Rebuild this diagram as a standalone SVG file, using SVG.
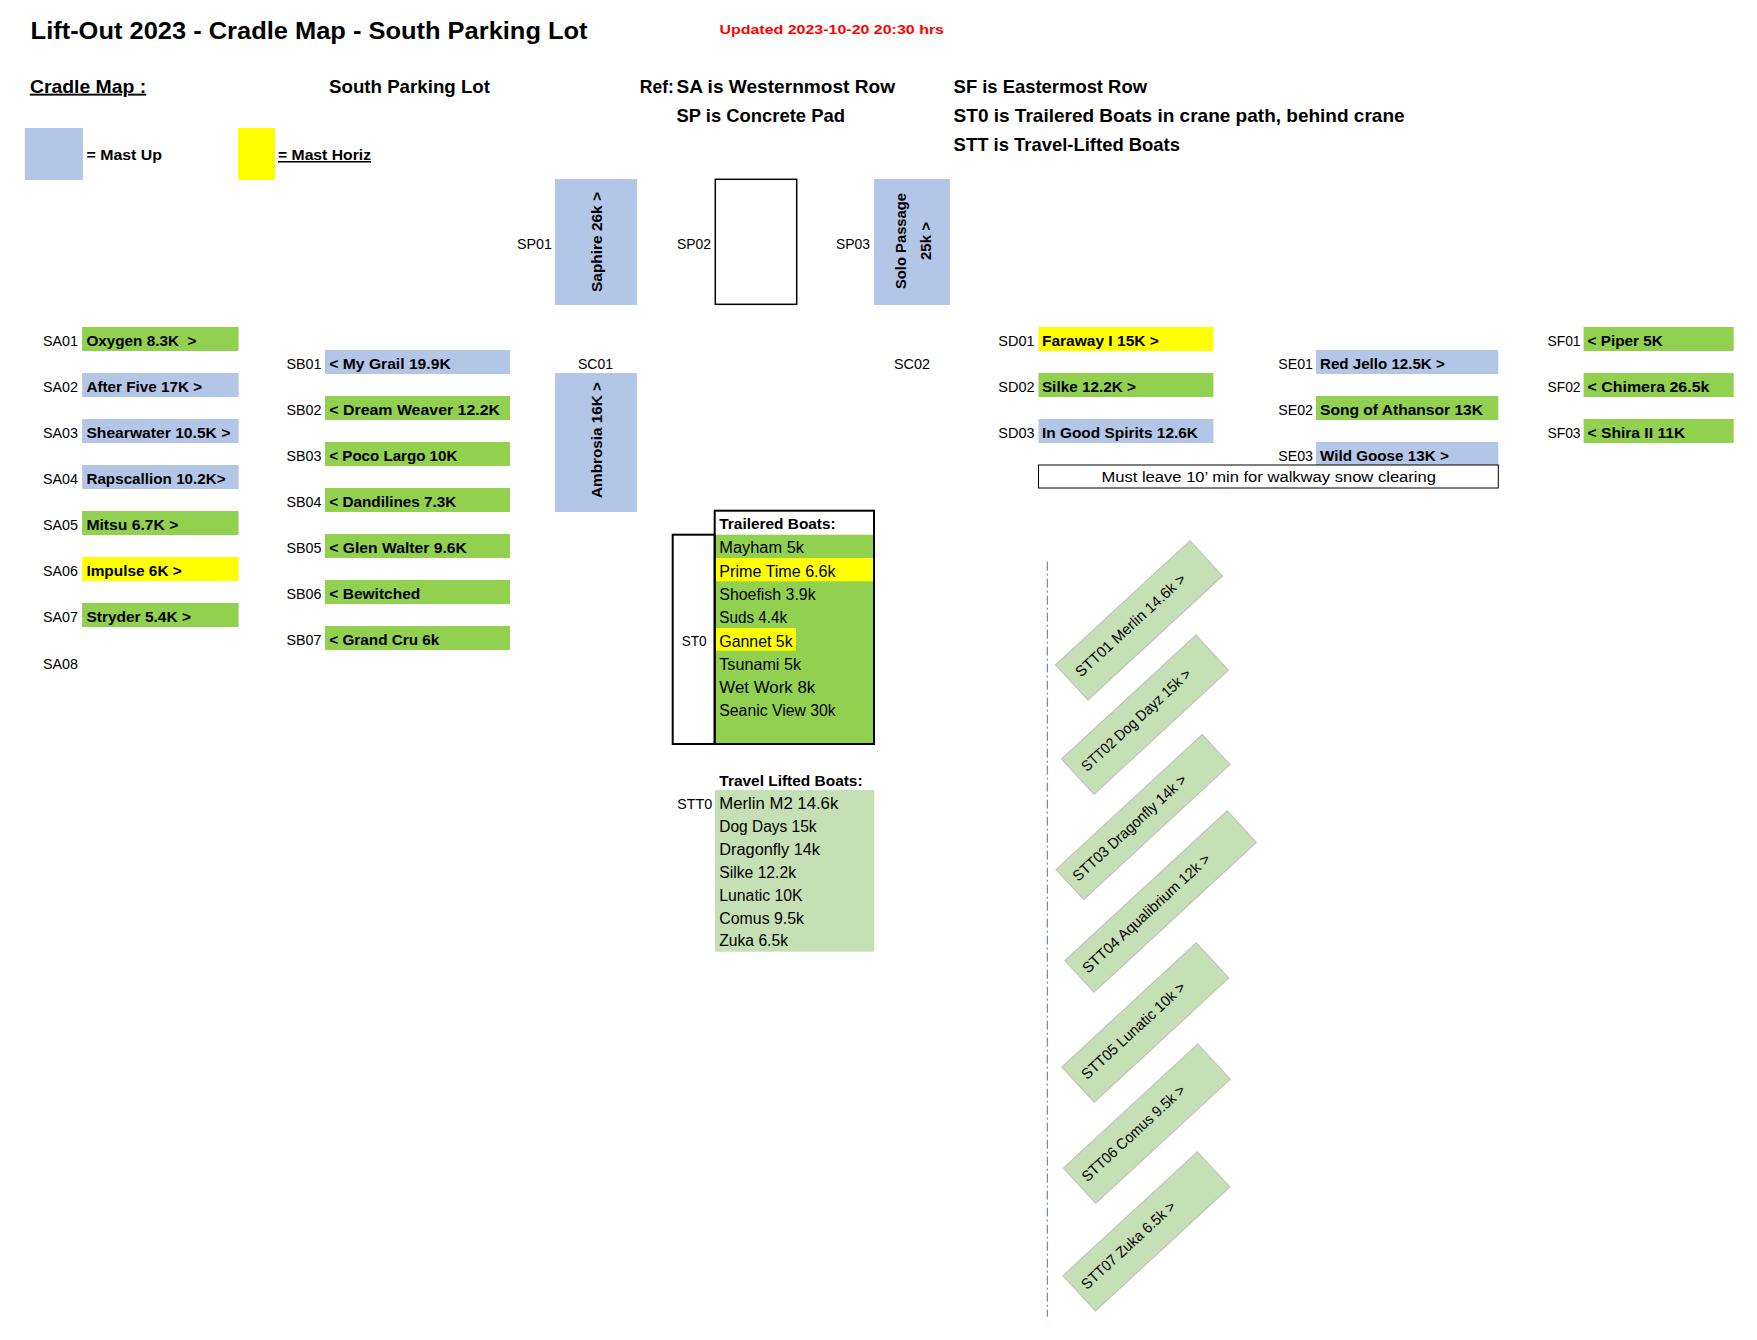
<svg xmlns="http://www.w3.org/2000/svg" width="1757" height="1340" viewBox="0 0 1757 1340">
<style>
text{font-family:"Liberation Sans",Arial,sans-serif;fill:#000}
.b{font-weight:bold}
.h{font-size:19px;font-weight:bold}
.lbl{font-size:15.5px}
.bx{font-size:15.3px;font-weight:bold}
.row{font-size:16px}
.tt{font-size:15px}
.blue{fill:#B4C6E7}
.green{fill:#92D050}
.yellow{fill:#FFFF00}
.lg{fill:#C5E0B4}
.ttbox{fill:#C5E0B4;stroke:#BFBFBF;stroke-width:1}
.u{text-decoration:underline}
</style>
<rect width="1757" height="1340" fill="#FFFFFF"/>

<g id="header">
<text x="30.6" y="39.3" font-size="23" class="b" textLength="557" lengthAdjust="spacingAndGlyphs">Lift-Out 2023 - Cradle Map - South Parking Lot</text>
<text x="719.4" y="34.3" font-size="13.5" class="b" style="fill:#FF0000" textLength="224.6" lengthAdjust="spacingAndGlyphs">Updated 2023-10-20 20:30 hrs</text>
<text x="29.9" y="92.7" class="h u" textLength="116.3" lengthAdjust="spacingAndGlyphs">Cradle Map :</text>
<text x="329" y="92.7" class="h" textLength="161" lengthAdjust="spacingAndGlyphs">South Parking Lot</text>
<text x="639.8" y="92.7" class="h" textLength="34" lengthAdjust="spacingAndGlyphs">Ref:</text>
<text x="676.5" y="92.7" class="h" textLength="218.5" lengthAdjust="spacingAndGlyphs">SA is Westernmost Row</text>
<text x="676.5" y="121.7" class="h" textLength="168.5" lengthAdjust="spacingAndGlyphs">SP is Concrete Pad</text>
<text x="953.6" y="92.7" class="h" textLength="193.4" lengthAdjust="spacingAndGlyphs">SF is Eastermost Row</text>
<text x="953.6" y="121.7" class="h" textLength="451" lengthAdjust="spacingAndGlyphs">ST0 is Trailered Boats in crane path, behind crane</text>
<text x="953.6" y="150.7" class="h" textLength="226.4" lengthAdjust="spacingAndGlyphs">STT is Travel-Lifted Boats</text>
</g>

<g id="legend">
<rect x="24.9" y="128" width="58" height="52" class="blue"/>
<text x="86.5" y="160" class="bx" textLength="75.5" lengthAdjust="spacingAndGlyphs">= Mast Up</text>
<rect x="238" y="128" width="37" height="52" class="yellow"/>
<text x="278" y="160" class="bx u" textLength="93" lengthAdjust="spacingAndGlyphs">= Mast Horiz</text>
</g>

<g id="row-SA">
<g id="SA01"><text x="42.9" y="346" class="lbl" textLength="35" lengthAdjust="spacingAndGlyphs">SA01</text><rect x="82.1" y="327" width="156.5" height="24" class="green"/><text x="86.4" y="346" class="bx" xml:space="preserve" textLength="110" lengthAdjust="spacingAndGlyphs">Oxygen 8.3K  &gt;</text></g>
<g id="SA02"><text x="42.9" y="392" class="lbl" textLength="35" lengthAdjust="spacingAndGlyphs">SA02</text><rect x="82.1" y="373" width="156.5" height="24" class="blue"/><text x="86.4" y="392" class="bx" textLength="115.7" lengthAdjust="spacingAndGlyphs">After Five 17K &gt;</text></g>
<g id="SA03"><text x="42.9" y="438" class="lbl" textLength="35" lengthAdjust="spacingAndGlyphs">SA03</text><rect x="82.1" y="419" width="156.5" height="24" class="blue"/><text x="86.4" y="438" class="bx" textLength="144" lengthAdjust="spacingAndGlyphs">Shearwater 10.5K &gt;</text></g>
<g id="SA04"><text x="42.9" y="484" class="lbl" textLength="35" lengthAdjust="spacingAndGlyphs">SA04</text><rect x="82.1" y="465" width="156.5" height="24" class="blue"/><text x="86.4" y="484" class="bx" textLength="139.3" lengthAdjust="spacingAndGlyphs">Rapscallion 10.2K&gt;</text></g>
<g id="SA05"><text x="42.9" y="530" class="lbl" textLength="35" lengthAdjust="spacingAndGlyphs">SA05</text><rect x="82.1" y="511" width="156.5" height="24" class="green"/><text x="86.4" y="530" class="bx" textLength="92" lengthAdjust="spacingAndGlyphs">Mitsu 6.7K &gt;</text></g>
<g id="SA06"><text x="42.9" y="576" class="lbl" textLength="35" lengthAdjust="spacingAndGlyphs">SA06</text><rect x="82.1" y="557" width="156.5" height="24" class="yellow"/><text x="86.4" y="576" class="bx" textLength="95.4" lengthAdjust="spacingAndGlyphs">Impulse 6K &gt;</text></g>
<g id="SA07"><text x="42.9" y="622" class="lbl" textLength="35" lengthAdjust="spacingAndGlyphs">SA07</text><rect x="82.1" y="603" width="156.5" height="24" class="green"/><text x="86.4" y="622" class="bx" textLength="104.6" lengthAdjust="spacingAndGlyphs">Stryder 5.4K &gt;</text></g>
<g id="SA08"><text x="42.9" y="669" class="lbl" textLength="35" lengthAdjust="spacingAndGlyphs">SA08</text></g>
</g>

<g id="row-SB">
<g id="SB01"><text x="286.4" y="369" class="lbl" textLength="35" lengthAdjust="spacingAndGlyphs">SB01</text><rect x="325" y="350" width="185" height="24" class="blue"/><text x="329.3" y="369" class="bx" textLength="121.4" lengthAdjust="spacingAndGlyphs">&lt; My Grail 19.9K</text></g>
<g id="SB02"><text x="286.4" y="415" class="lbl" textLength="35" lengthAdjust="spacingAndGlyphs">SB02</text><rect x="325" y="396" width="185" height="24" class="green"/><text x="329.3" y="415" class="bx" textLength="170.7" lengthAdjust="spacingAndGlyphs">&lt; Dream Weaver 12.2K</text></g>
<g id="SB03"><text x="286.4" y="461" class="lbl" textLength="35" lengthAdjust="spacingAndGlyphs">SB03</text><rect x="325" y="442" width="185" height="24" class="green"/><text x="329.3" y="461" class="bx" textLength="128" lengthAdjust="spacingAndGlyphs">&lt; Poco Largo 10K</text></g>
<g id="SB04"><text x="286.4" y="507" class="lbl" textLength="35" lengthAdjust="spacingAndGlyphs">SB04</text><rect x="325" y="488" width="185" height="24" class="green"/><text x="329.3" y="507" class="bx" textLength="127" lengthAdjust="spacingAndGlyphs">&lt; Dandilines 7.3K</text></g>
<g id="SB05"><text x="286.4" y="553" class="lbl" textLength="35" lengthAdjust="spacingAndGlyphs">SB05</text><rect x="325" y="534" width="185" height="24" class="green"/><text x="329.3" y="553" class="bx" textLength="137.5" lengthAdjust="spacingAndGlyphs">&lt; Glen Walter 9.6K</text></g>
<g id="SB06"><text x="286.4" y="599" class="lbl" textLength="35" lengthAdjust="spacingAndGlyphs">SB06</text><rect x="325" y="580" width="185" height="24" class="green"/><text x="329.3" y="599" class="bx" textLength="91" lengthAdjust="spacingAndGlyphs">&lt; Bewitched</text></g>
<g id="SB07"><text x="286.4" y="645" class="lbl" textLength="35" lengthAdjust="spacingAndGlyphs">SB07</text><rect x="325" y="626" width="185" height="24" class="green"/><text x="329.3" y="645" class="bx" textLength="110" lengthAdjust="spacingAndGlyphs">&lt; Grand Cru 6k</text></g>
</g>

<g id="row-SP">
<g id="SP01"><text x="517" y="249" class="lbl" textLength="35" lengthAdjust="spacingAndGlyphs">SP01</text><rect x="555" y="179" width="82" height="126" class="blue"/><text transform="translate(602,242) rotate(-90)" text-anchor="middle" class="bx" textLength="100" lengthAdjust="spacingAndGlyphs">Saphire 26k &gt;</text></g>
<g id="SP02"><text x="677" y="249" class="lbl" textLength="34" lengthAdjust="spacingAndGlyphs">SP02</text><rect x="715.3" y="179.3" width="81.4" height="125" fill="none" stroke="#000" stroke-width="1.5"/></g>
<g id="SP03"><text x="836" y="249" class="lbl" textLength="34" lengthAdjust="spacingAndGlyphs">SP03</text><rect x="874" y="179" width="76" height="126" class="blue"/><text transform="translate(906,241) rotate(-90)" text-anchor="middle" class="bx" textLength="96" lengthAdjust="spacingAndGlyphs">Solo Passage</text><text transform="translate(930.5,241) rotate(-90)" text-anchor="middle" class="bx" textLength="38" lengthAdjust="spacingAndGlyphs">25k &gt;</text></g>
</g>

<g id="row-SC">
<g id="SC01"><text x="578" y="369" class="lbl" textLength="35" lengthAdjust="spacingAndGlyphs">SC01</text><rect x="555" y="373" width="82" height="139" class="blue"/><text transform="translate(602,440) rotate(-90)" text-anchor="middle" class="bx" textLength="116" lengthAdjust="spacingAndGlyphs">Ambrosia 16K &gt;</text></g>
<g id="SC02"><text x="894" y="369" class="lbl" textLength="36" lengthAdjust="spacingAndGlyphs">SC02</text></g>
</g>

<g id="row-SD">
<g id="SD01"><text x="998.3" y="346" class="lbl" textLength="36.2" lengthAdjust="spacingAndGlyphs">SD01</text><rect x="1038.5" y="327" width="174.9" height="24" class="yellow"/><text x="1041.9" y="346" class="bx" textLength="117" lengthAdjust="spacingAndGlyphs">Faraway I 15K &gt;</text></g>
<g id="SD02"><text x="998.3" y="392" class="lbl" textLength="36.2" lengthAdjust="spacingAndGlyphs">SD02</text><rect x="1038.5" y="373" width="174.9" height="24" class="green"/><text x="1041.9" y="392" class="bx" textLength="94.2" lengthAdjust="spacingAndGlyphs">Silke 12.2K &gt;</text></g>
<g id="SD03"><text x="998.3" y="438" class="lbl" textLength="36.2" lengthAdjust="spacingAndGlyphs">SD03</text><rect x="1038.5" y="419" width="174.9" height="24" class="blue"/><text x="1041.9" y="438" class="bx" textLength="156.1" lengthAdjust="spacingAndGlyphs">In Good Spirits 12.6K</text></g>
</g>

<g id="row-SE">
<g id="SE01"><text x="1278.3" y="369" class="lbl" textLength="34.7" lengthAdjust="spacingAndGlyphs">SE01</text><rect x="1316" y="350" width="182.3" height="24" class="blue"/><text x="1320" y="369" class="bx" textLength="124.8" lengthAdjust="spacingAndGlyphs">Red Jello 12.5K &gt;</text></g>
<g id="SE02"><text x="1278.3" y="415" class="lbl" textLength="34.7" lengthAdjust="spacingAndGlyphs">SE02</text><rect x="1316" y="396" width="182.3" height="24" class="green"/><text x="1320" y="415" class="bx" textLength="163" lengthAdjust="spacingAndGlyphs">Song of Athansor 13K</text></g>
<g id="SE03"><text x="1278.3" y="461" class="lbl" textLength="34.7" lengthAdjust="spacingAndGlyphs">SE03</text><rect x="1316" y="442" width="182.3" height="23" class="blue"/><text x="1320" y="461" class="bx" textLength="128.8" lengthAdjust="spacingAndGlyphs">Wild Goose 13K &gt;</text></g>
</g>

<g id="snow-note">
<rect x="1038.5" y="465" width="459.8" height="23" fill="#FFFFFF" stroke="#000" stroke-width="1"/>
<text x="1268.7" y="482" text-anchor="middle" class="lbl" textLength="334.5" lengthAdjust="spacingAndGlyphs">Must leave 10’ min for walkway snow clearing</text>
</g>

<g id="row-SF">
<g id="SF01"><text x="1547.4" y="346" class="lbl" textLength="33.2" lengthAdjust="spacingAndGlyphs">SF01</text><rect x="1583.6" y="327" width="150.1" height="24" class="green"/><text x="1587.5" y="346" class="bx" textLength="75.4" lengthAdjust="spacingAndGlyphs">&lt; Piper 5K</text></g>
<g id="SF02"><text x="1547.4" y="392" class="lbl" textLength="33.2" lengthAdjust="spacingAndGlyphs">SF02</text><rect x="1583.6" y="373" width="150.1" height="24" class="green"/><text x="1587.5" y="392" class="bx" textLength="121.9" lengthAdjust="spacingAndGlyphs">&lt; Chimera 26.5k</text></g>
<g id="SF03"><text x="1547.4" y="438" class="lbl" textLength="33.2" lengthAdjust="spacingAndGlyphs">SF03</text><rect x="1583.6" y="419" width="150.1" height="24" class="green"/><text x="1587.5" y="438" class="bx" textLength="97.7" lengthAdjust="spacingAndGlyphs">&lt; Shira II 11K</text></g>
</g>

<g id="ST0-trailered">
<rect x="714.7" y="510.7" width="159.3" height="233.3" fill="#FFFFFF"/>
<rect x="715.7" y="534.7" width="157.3" height="208.3" class="green"/>
<rect x="715.7" y="558" width="157.3" height="23.3" class="yellow"/>
<rect x="715.7" y="628" width="80.3" height="22.7" class="yellow"/>
<rect x="714.7" y="510.7" width="159.3" height="233.3" fill="none" stroke="#000" stroke-width="2"/>
<rect x="672.7" y="534.7" width="42" height="209.3" fill="none" stroke="#000" stroke-width="2"/>
<text x="681.7" y="646" class="lbl" textLength="25" lengthAdjust="spacingAndGlyphs">ST0</text>
<text x="719.3" y="529.3" class="bx" textLength="116.4" lengthAdjust="spacingAndGlyphs">Trailered Boats:</text>
<text x="719.3" y="553.3" class="row" textLength="84.7" lengthAdjust="spacingAndGlyphs">Mayham 5k</text>
<text x="719.3" y="576.6" class="row" textLength="116.3" lengthAdjust="spacingAndGlyphs">Prime Time 6.6k</text>
<text x="719.3" y="599.9" class="row" textLength="96.3" lengthAdjust="spacingAndGlyphs">Shoefish 3.9k</text>
<text x="719.3" y="623.2" class="row" textLength="67.7" lengthAdjust="spacingAndGlyphs">Suds 4.4k</text>
<text x="719.3" y="646.5" class="row" textLength="73.3" lengthAdjust="spacingAndGlyphs">Gannet 5k</text>
<text x="719.3" y="669.8" class="row" textLength="81.7" lengthAdjust="spacingAndGlyphs">Tsunami 5k</text>
<text x="719.3" y="693.1" class="row" textLength="96" lengthAdjust="spacingAndGlyphs">Wet Work 8k</text>
<text x="719.3" y="716.4" class="row" textLength="116.4" lengthAdjust="spacingAndGlyphs">Seanic View 30k</text>
</g>

<g id="STT0-travel-lifted">
<text x="719.3" y="786" class="bx" textLength="143.3" lengthAdjust="spacingAndGlyphs">Travel Lifted Boats:</text>
<rect x="715" y="790" width="159.3" height="161.7" class="lg"/>
<text x="677.3" y="809" class="lbl" textLength="35" lengthAdjust="spacingAndGlyphs">STT0</text>
<text x="719.3" y="809" class="row" textLength="119" lengthAdjust="spacingAndGlyphs">Merlin M2 14.6k</text>
<text x="719.3" y="831.9" class="row" textLength="97.3" lengthAdjust="spacingAndGlyphs">Dog Days 15k</text>
<text x="719.3" y="854.8" class="row" textLength="100.7" lengthAdjust="spacingAndGlyphs">Dragonfly 14k</text>
<text x="719.3" y="877.7" class="row" textLength="76.7" lengthAdjust="spacingAndGlyphs">Silke 12.2k</text>
<text x="719.3" y="900.6" class="row" textLength="83.3" lengthAdjust="spacingAndGlyphs">Lunatic 10K</text>
<text x="719.3" y="923.5" class="row" textLength="84.7" lengthAdjust="spacingAndGlyphs">Comus 9.5k</text>
<text x="719.3" y="946.4" class="row" textLength="68.7" lengthAdjust="spacingAndGlyphs">Zuka 6.5k</text>
</g>

<g id="guide-line">
<line x1="1047.3" y1="561.7" x2="1047.3" y2="1316.7" stroke="#4472C4" stroke-width="1" stroke-dasharray="9 3 2 3"/>
</g>

<g id="STT01" transform="translate(1139,620.3) rotate(-42.7)"><rect x="-91.5" y="-24" width="183" height="48" class="ttbox"/><text x="-81.6" y="3" class="tt" textLength="144" lengthAdjust="spacingAndGlyphs">STT01 Merlin 14.6k &gt;</text></g>
<g id="STT02" transform="translate(1145,714.7) rotate(-42.7)"><rect x="-91.5" y="-24" width="183" height="48" class="ttbox"/><text x="-81.7" y="3" class="tt" textLength="143" lengthAdjust="spacingAndGlyphs">STT02 Dog Dayz 15k &gt;</text></g>
<g id="STT03" transform="translate(1143,817) rotate(-42.7)"><rect x="-99.5" y="-20.5" width="199" height="41" class="ttbox"/><text x="-91.7" y="4" class="tt" textLength="149" lengthAdjust="spacingAndGlyphs">STT03 Dragonfly 14k &gt;</text></g>
<g id="STT04" transform="translate(1160.6,901.5) rotate(-42.7)"><rect x="-110.5" y="-21.5" width="221" height="43" class="ttbox"/><text x="-102.5" y="4" class="tt" textLength="168" lengthAdjust="spacingAndGlyphs">STT04 Aqualibrium 12k &gt;</text></g>
<g id="STT05" transform="translate(1145.3,1022.5) rotate(-42.7)"><rect x="-91.5" y="-24" width="183" height="48" class="ttbox"/><text x="-82" y="3" class="tt" textLength="135.5" lengthAdjust="spacingAndGlyphs">STT05 Lunatic 10k &gt;</text></g>
<g id="STT06" transform="translate(1146.8,1123.6) rotate(-42.7)"><rect x="-91.5" y="-24" width="183" height="48" class="ttbox"/><text x="-83.6" y="3" class="tt" textLength="134.5" lengthAdjust="spacingAndGlyphs">STT06 Comus 9.5k &gt;</text></g>
<g id="STT07" transform="translate(1146.4,1231.3) rotate(-42.7)"><rect x="-91.5" y="-24" width="183" height="48" class="ttbox"/><text x="-83.7" y="3" class="tt" textLength="122" lengthAdjust="spacingAndGlyphs">STT07 Zuka 6.5k &gt;</text></g>
</svg>
